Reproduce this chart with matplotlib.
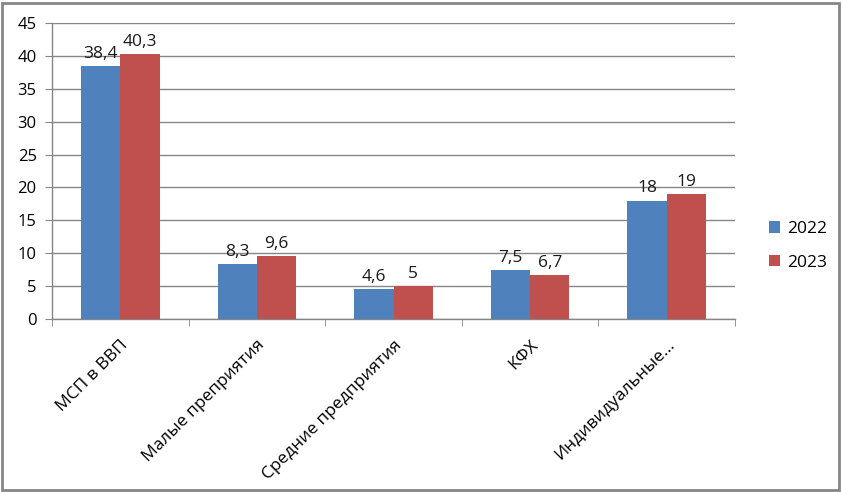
import numpy as np
import matplotlib.pyplot as plt
from matplotlib.patches import Rectangle

categories = ['МСП в ВВП', 'Малые преприятия', 'Средние предприятия', 'КФХ', 'Индивидуальные...']
years = ['2022', '2023']
values_2022 = [38.4, 8.3, 4.6, 7.5, 18]
values_2023 = [40.3, 9.6, 5, 6.7, 19]
colors = ['#4F81BD', '#C0504D']

plt.rcParams['font.family'] = ['Open Sans', 'DejaVu Sans']

fig = plt.figure(figsize=(8.42, 4.92), dpi=100)
ax = fig.add_axes([52 / 842, 1 - 319 / 492, (735 - 52) / 842, (319 - 23) / 492])

x = np.arange(len(categories))
w = 0.287
b1 = ax.bar(x - w / 2, values_2022, w, color=colors[0], label=years[0], zorder=3)
b2 = ax.bar(x + w / 2, values_2023, w, color=colors[1], label=years[1], zorder=3)

def fmt(v):
    s = ('%g' % v).replace('.', ',')
    return s

for bars in (b1, b2):
    for r in bars:
        ax.annotate(fmt(r.get_height()), (r.get_x() + r.get_width() / 2, r.get_height()),
                    xytext=(0, 3), textcoords='offset points', ha='center', va='bottom',
                    fontsize=12.5, color='#1a1a1a')

ax.set_xlim(-0.5, len(categories) - 0.5)
ax.set_ylim(0, 45)
ax.set_yticks(range(0, 46, 5))
ax.yaxis.grid(True, color='#868686', linewidth=1, zorder=0)
ax.set_axisbelow(True)

for s in ('top', 'right'):
    ax.spines[s].set_visible(False)
for s in ('left', 'bottom'):
    ax.spines[s].set_color('#868686')
    ax.spines[s].set_linewidth(1)

ax.set_xticks(x)
ax.set_xticklabels(categories, rotation=45, ha='right', rotation_mode='anchor', fontsize=12.5)
ax.tick_params(axis='x', length=0, pad=13)
ax.set_xticks(np.arange(-0.5, len(categories)), minor=True)
ax.tick_params(axis='x', which='minor', length=5, color='#868686', direction='out')
ax.tick_params(axis='y', length=5, color='#868686', direction='out', labelsize=12, pad=6)

ax.legend(loc='center left', bbox_to_anchor=(753 / 842, 1 - 246 / 492), bbox_transform=fig.transFigure,
          frameon=False, fontsize=12.5, handlelength=0.65, handleheight=0.65, labelspacing=1.0,
          handletextpad=0.4)

fig.patches.append(Rectangle((2 / 842, 2 / 492), 837 / 842, 487 / 492, transform=fig.transFigure,
                             fill=False, edgecolor='#868686', linewidth=2))

fig.savefig('out.png', dpi=100)
